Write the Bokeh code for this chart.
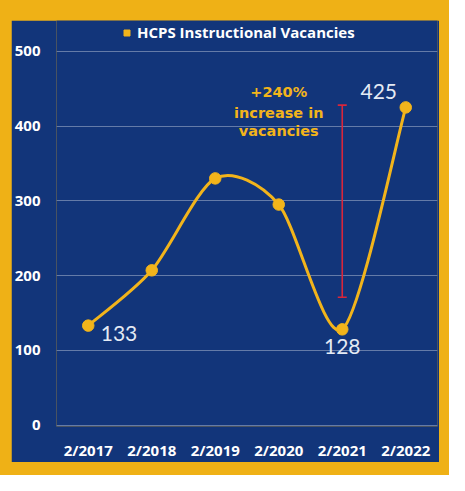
from bokeh.plotting import figure
from bokeh.models import (Range1d, FixedTicker, ColumnDataSource, Legend, LegendItem,
                          Whisker, TeeHead, Label)
from bokeh.layouts import column
from bokeh.core.properties import value
from bokeh.embed import file_html
from bokeh.resources import INLINE

# ---- data ----
categories = ["2/2017", "2/2018", "2/2019", "2/2020", "2/2021", "2/2022"]
vacancies = [133, 207, 330, 295, 128, 425]
label_values = {0: "133", 4: "128", 5: "425"}
range_low = 171
range_high = 428
range_at = 4
annotation_lines = ["+240%", "increase in", "vacancies"]
annotation_y = [445, 418, 393]
y_ticks = [0, 100, 200, 300, 400, 500]
series_name = "HCPS Instructional Vacancies"

BLUE = "#12357A"
YELLOW = "#F2B41B"
FRAME_YELLOW = "#EFB116"
RED = "#D9263B"
SMOOTH = 0.14  # curve tension

xs = list(range(len(categories)))

p = figure(width=428, height=442, x_range=Range1d(-0.5, 5.5), y_range=Range1d(-1.98, 541.27),
           output_backend="svg", toolbar_location=None,
           min_border_left=40, min_border_right=2, min_border_top=0, min_border_bottom=30,
           background_fill_color=BLUE, border_fill_color=BLUE, outline_line_color=None)

# axes
p.xaxis.ticker = FixedTicker(ticks=xs)
p.xaxis.major_label_overrides = {i: c for i, c in enumerate(categories)}
p.yaxis.ticker = FixedTicker(ticks=y_ticks)
for ax in (p.xaxis, p.yaxis):
    ax.axis_line_color = None
    ax.major_tick_line_color = None
    ax.minor_tick_line_color = None
    ax.major_label_text_color = "white"
    ax.major_label_text_font = "Open Sans"
    ax.major_label_text_font_style = "bold"
    ax.major_label_text_font_size = "15px"
p.xaxis.major_label_standoff = 7
p.yaxis.major_label_standoff = 10
p.xgrid.grid_line_color = None
p.ygrid.grid_line_color = "white"
p.ygrid.grid_line_alpha = 0.35
p.ygrid.grid_line_width = 1

# smooth curve (cardinal spline -> cubic bezier) through the data points
pts = list(zip(xs, vacancies))
x0s, y0s, x1s, y1s, cx0, cy0, cx1, cy1 = [], [], [], [], [], [], [], []
for i in range(len(pts) - 1):
    pa = pts[i - 1] if i > 0 else pts[i]
    pb = pts[i]
    pc = pts[i + 1]
    pd = pts[i + 2] if i + 2 < len(pts) else pts[i + 1]
    x0s.append(pb[0]); y0s.append(pb[1])
    x1s.append(pc[0]); y1s.append(pc[1])
    cx0.append(pb[0] + (pc[0] - pa[0]) * SMOOTH); cy0.append(pb[1] + (pc[1] - pa[1]) * SMOOTH)
    cx1.append(pc[0] - (pd[0] - pb[0]) * SMOOTH); cy1.append(pc[1] - (pd[1] - pb[1]) * SMOOTH)
p.bezier(x0=x0s, y0=y0s, x1=x1s, y1=y1s, cx0=cx0, cy0=cy0, cx1=cx1, cy1=cy1,
         line_color=YELLOW, line_width=3)

# small squares under the point markers (used as the legend's swatch)
sq = p.scatter(xs, vacancies, marker="square", size=5, fill_color=YELLOW, line_color=YELLOW)
p.scatter(xs, vacancies, size=11.5, fill_color=YELLOW, line_color=YELLOW)

# range bar
wsrc = ColumnDataSource(dict(base=[range_at], lower=[range_low], upper=[range_high]))
w = Whisker(source=wsrc, base="base", lower="lower", upper="upper", dimension="height",
            line_color=RED, line_width=1.6,
            upper_head=TeeHead(size=9, line_color=RED, line_width=1.6),
            lower_head=TeeHead(size=9, line_color=RED, line_width=1.6))
p.add_layout(w)

# data labels
lx = list(label_values.keys())
ly = [vacancies[i] for i in lx]
lt = list(label_values.values())
x_off = [12.5, 0, -27]
y_off = [8, 17.5, -15.5]
aligns = ["left", "center", "center"]
p.text(x=lx, y=ly, text=lt, x_offset=x_off, y_offset=y_off, text_align=aligns,
       text_baseline="middle", text_color="#E4EAF4", text_font=value("Lato"),
       text_font_size="21px")

# annotation
for line, yy in zip(annotation_lines, annotation_y):
    p.add_layout(Label(x=3, y=yy, text=line, text_align="center", text_baseline="middle",
                       text_color=YELLOW, text_font="DejaVu Sans", text_font_style="bold",
                       text_font_size="14.5px"))

# legend (top band of the frame)
leg = Legend(items=[LegendItem(label=series_name, renderers=[sq])],
             orientation="horizontal", location=(63, 384),
             background_fill_alpha=0, border_line_alpha=0,
             label_text_color="white", label_text_font="Open Sans",
             label_text_font_style="bold", label_text_font_size="15px",
             glyph_width=15, glyph_height=15, label_standoff=3, label_height=15,
             padding=0, margin=0, spacing=0)
p.add_layout(leg)

layout = column(p, styles={"background-color": FRAME_YELLOW, "padding": "20px 10px 13px 11px"})

open("out.html", "w").write(file_html(layout, INLINE))
